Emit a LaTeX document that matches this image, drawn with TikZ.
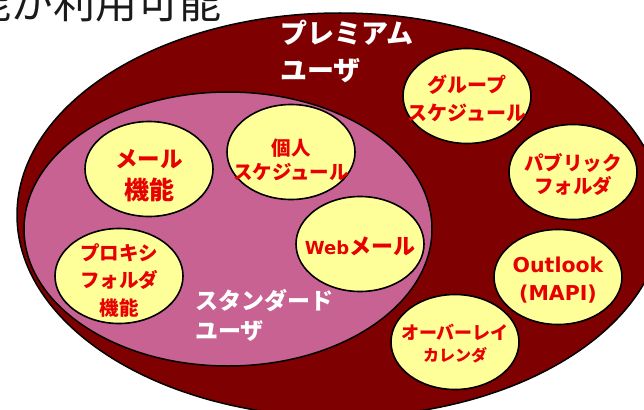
\documentclass[tikz,border=0pt]{standalone}
\usepackage{fontspec}
\newfontfamily\jp{Noto Sans CJK JP}
\newfontfamily\lat{DejaVu Sans}
\usetikzlibrary{shapes.geometric}
\definecolor{premium}{HTML}{7F0000}
\definecolor{standard}{HTML}{C86292}
\definecolor{bubble}{HTML}{FFFF99}
\definecolor{redtxt}{HTML}{E60000}
\definecolor{titletxt}{HTML}{1A1A1A}
\tikzset{
  bubblebox/.style={ellipse, draw=black, line width=1.6pt, fill=bubble,
    minimum width=128pt, minimum height=95pt, inner sep=0pt},
  bubbletxt/.style={align=center, text=redtxt, inner sep=0pt,
    font=\jp\bfseries\fontsize{20}{28}\selectfont},
  whitetxt/.style={align=left, text=white, inner sep=0pt},
}
\begin{document}
\begin{tikzpicture}[x=1pt, y=-1pt]
\useasboundingbox (0,0) rectangle (644,409);
\clip (0,0) rectangle (644,409);
% title fragment
\node[anchor=base west, inner sep=0pt, text=titletxt,
  font=\jp\fontsize{42}{42}\selectfont] (title) at (-31,19) {能が利用可能};
% premium ellipse
\node[ellipse, draw=black, line width=1.5pt, fill=premium,
  minimum width=646pt, minimum height=404pt, inner sep=0pt] (premium) at (340,215) {};
% standard ellipse
\node[ellipse, draw=black, line width=1.5pt, fill=standard,
  minimum width=408pt, minimum height=274pt, inner sep=0pt] (standard) at (228,229) {};
% labels of groups
\node[whitetxt, anchor=north west, font=\jp\bfseries\fontsize{27}{37}\selectfont] (premlbl) at (280,20) {プレミアム\\ユーザ};
\node[whitetxt, anchor=north west, font=\jp\bfseries\fontsize{23}{30}\selectfont] (stdlbl) at (195,289) {スタンダード\\ユーザ};
% bubbles
\node[bubblebox] (mail) at (149,169) {};
\node[bubblebox] (kojin) at (291,152) {};
\node[bubblebox] (web) at (360,244) {};
\node[bubblebox] (proxy) at (119,276) {};
\node[bubblebox] (group) at (467,96) {};
\node[bubblebox] (public) at (573,172) {};
\node[bubblebox] (outlook) at (558,277) {};
\node[bubblebox] (overlay) at (455,342) {};
% bubble texts
\node[bubbletxt, font=\jp\bfseries\fontsize{22.5}{32}\selectfont] (tmail) at ([yshift=-7]mail.center) {メール\\{\fontsize{25}{32}\selectfont 機能}};
\node[bubbletxt, font=\jp\bfseries\fontsize{19.5}{24}\selectfont] (tkojin) at ([yshift=-8]kojin.center) {個人\\スケジュール};
\node[bubbletxt, font=\jp\bfseries\fontsize{22}{28}\selectfont] (tweb) at ([yshift=-2]web.center) {{\lat\bfseries\fontsize{18}{28}\selectfont Web}メール};
\node[bubbletxt, font=\jp\bfseries\fontsize{19.5}{27.5}\selectfont] (tproxy) at ([yshift=-4]proxy.center) {プロキシ\\フォルダ\\機能};
\node[bubbletxt] (tgroup) at ([yshift=-2]group.center) {グループ\\スケジュール};
\node[bubbletxt, font=\jp\bfseries\fontsize{19.5}{23}\selectfont] (tpublic) at ([yshift=-2]public.center) {パブリック\\フォルダ};
\node[bubbletxt, font=\lat\bfseries\fontsize{20.5}{28}\selectfont] (toutlook) at ([yshift=-3]outlook.center) {Outlook\\(MAPI)};
\node[bubbletxt, font=\jp\bfseries\fontsize{18}{22}\selectfont] (toverlay) at ([yshift=-2]overlay.center) {オーバーレイ\\{\fontsize{16}{22}\selectfont カレンダ}};
\end{tikzpicture}
\end{document}
